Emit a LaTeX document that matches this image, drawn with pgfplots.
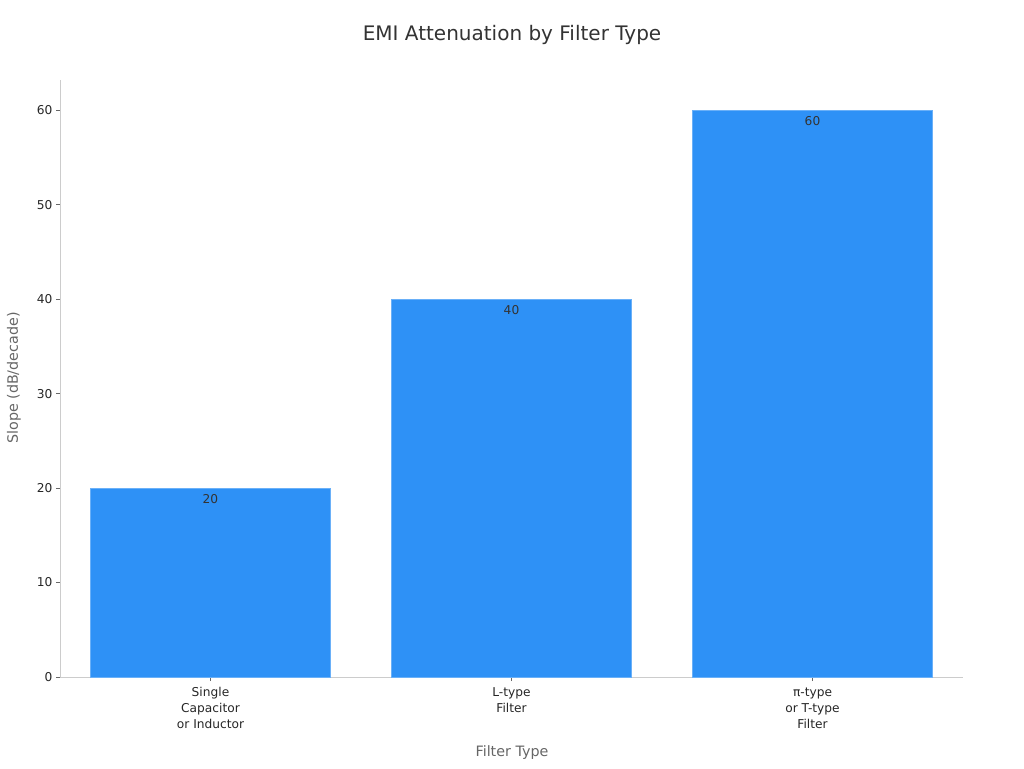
\documentclass[border=0pt]{standalone}
\usepackage{pgfplots}
\pgfplotsset{compat=1.18}
\usepackage{fontspec}
\setmainfont{DejaVu Sans}
\definecolor{barblue}{HTML}{2E91F6}
\definecolor{baredge}{HTML}{6AB0F8}
\definecolor{spine}{HTML}{CCCCCC}
\definecolor{ticktxt}{HTML}{262626}
\definecolor{labtxt}{HTML}{666666}
\definecolor{titletxt}{HTML}{333333}
\begin{document}
\begin{tikzpicture}[x=1pt,y=1pt]
\useasboundingbox (0,0) rectangle (1024,768);
\node[font=\fontsize{20}{24}\selectfont, text=titletxt] at (512,733) {EMI Attenuation by Filter Type};
\node[font=\fontsize{14.3}{17}\selectfont, text=labtxt] at (512,15) {Filter Type};
\node[font=\fontsize{14.3}{17}\selectfont, text=labtxt, rotate=90] at (14,390) {Slope (dB/decade)};
\begin{axis}[
  at={(60pt,91pt)}, anchor=south west,
  scale only axis, width=903pt, height=597pt,
  xmin=-0.5, xmax=2.5, ymin=0, ymax=63.2,
  axis x line*=bottom, axis y line*=left,
  axis line style={spine, line width=0.8pt},
  xtick={0,1,2},
  xticklabels={{Single\\Capacitor\\or Inductor},{L-type\\Filter},{π-type\\or T-type\\Filter}},
  xticklabel style={align=center, font=\fontsize{12.2}{16}\selectfont, text=ticktxt, yshift=-3pt},
  ytick={0,10,20,30,40,50,60},
  yticklabel style={font=\fontsize{12.2}{14}\selectfont, text=ticktxt},
  /pgf/number format/assume math mode=true,
  tick style={color=ticktxt!70, line width=0.6pt},
  major tick length=4pt,
  tick align=outside,
  ybar, bar width=240pt,
  nodes near coords,
  every node near coord/.append style={anchor=north, yshift=-2.5pt, font=\fontsize{12.2}{14}\selectfont, text=titletxt},
  clip=false,
]
\addplot[fill=barblue, draw=baredge, line width=0.8pt] coordinates {(0,20) (1,40) (2,60)};
\end{axis}
\end{tikzpicture}
\end{document}
